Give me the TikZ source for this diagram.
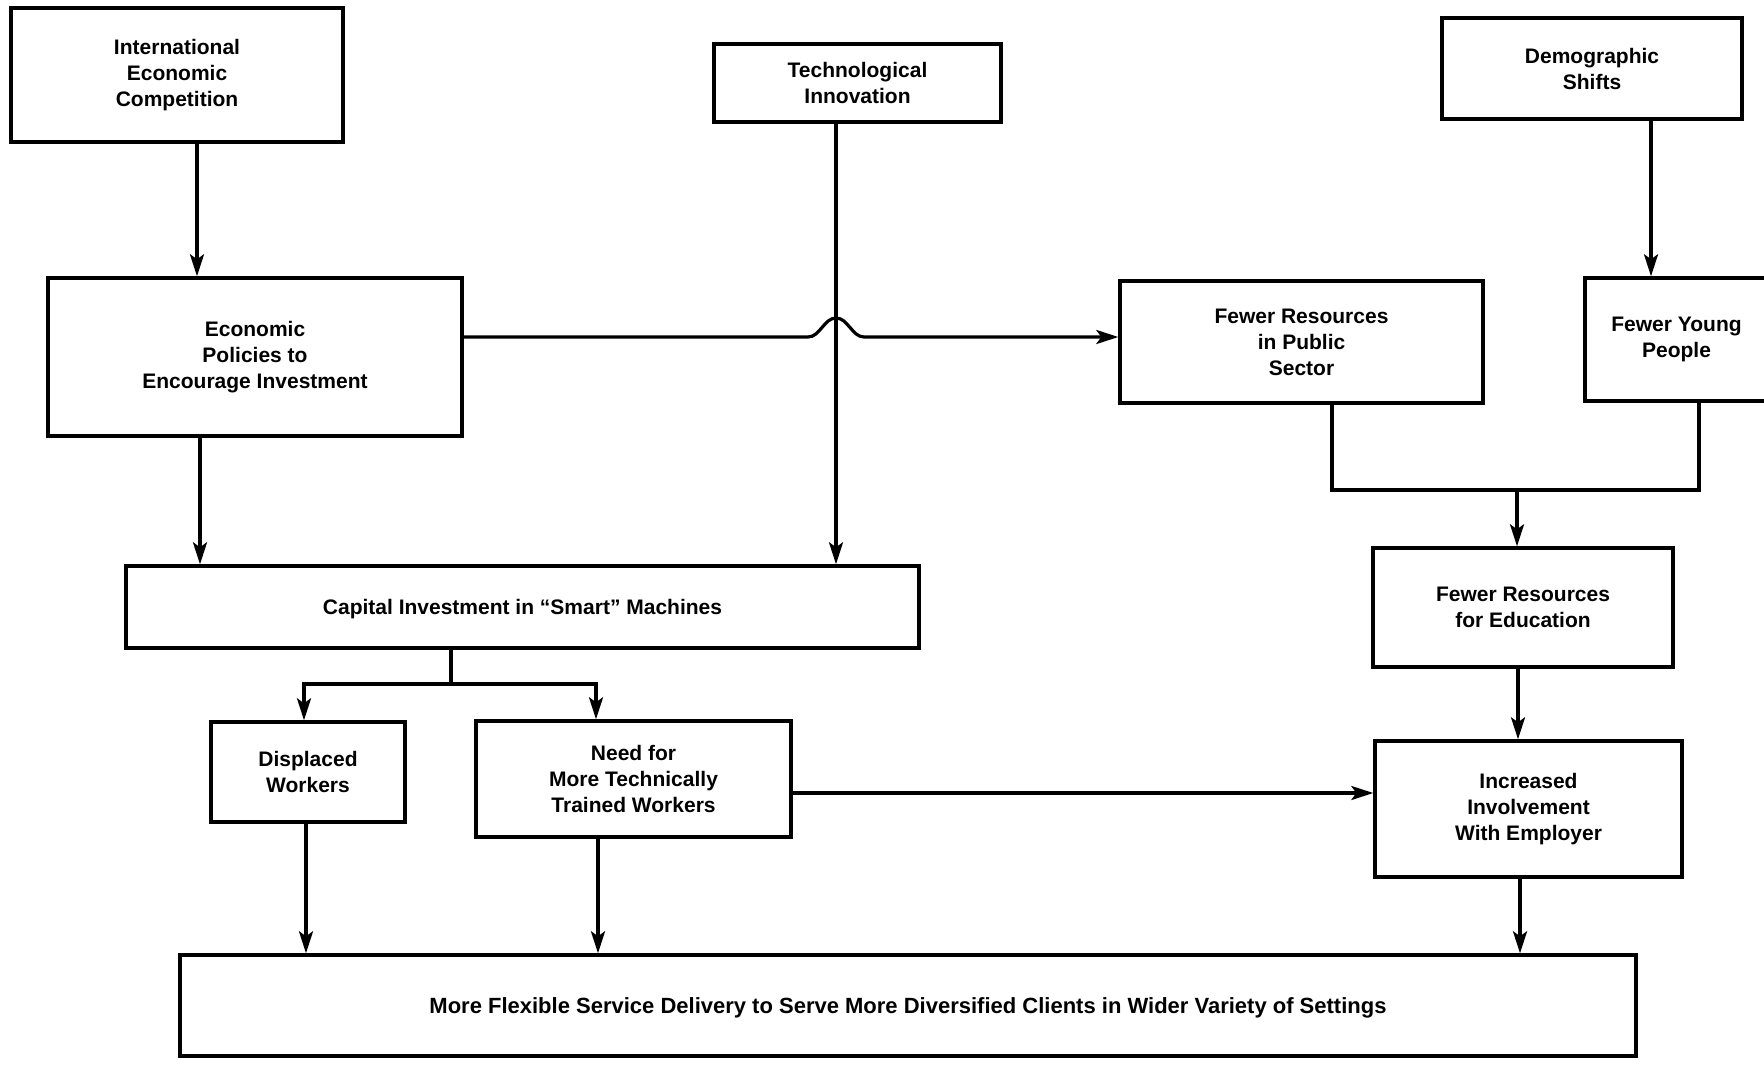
\documentclass[tikz,border=0pt]{standalone}
\usepackage{fontspec}
\setmainfont{Liberation Sans}
\usetikzlibrary{arrows.meta,calc}
\tikzset{
  box/.style={draw, line width=1.7pt, inner sep=0pt, align=center, fill=white,
    font=\fontsize{10.5}{13}\selectfont\bfseries},
  oneline/.style={text height=7.5pt, text depth=0pt},
  conn/.style={line width=1.6pt, line join=miter},
  arr/.style={conn, -{Stealth[length=11pt,width=7pt,inset=2.5pt]}},
}
\begin{document}
\begin{tikzpicture}[x=0.5pt,y=-0.5pt]
\clip (0,0) rectangle (1764,1064);
\fill[white] (0,0) rectangle (1764,1064);

% boxes
\node[box, minimum width=166pt, minimum height=67pt] (iec) at (177,75) {International\\Economic\\Competition};
\node[box, minimum width=143.5pt, minimum height=39pt] (tech) at (857.5,83) {Technological\\Innovation};
\node[box, minimum width=150pt, minimum height=50.5pt] (demo) at (1592,68.5) {Demographic\\Shifts};
\node[box, minimum width=207pt, minimum height=79pt] (ep) at (255,357) {Economic\\Policies to\\Encourage Investment};
\node[box, minimum width=181.5pt, minimum height=61pt] (pub) at (1301.5,342) {Fewer Resources\\in Public\\Sector};
\node[box, minimum width=91.5pt, minimum height=61.5pt] (young) at (1676.5,339.5) {Fewer Young\\People};
\node[box, oneline, minimum width=396.5pt, minimum height=41pt] (cap) at (522.5,607) {Capital Investment in ``Smart'' Machines};
\node[box, minimum width=150pt, minimum height=59.5pt] (edu) at (1523,607.5) {Fewer Resources\\for Education};
\node[box, minimum width=97pt, minimum height=50pt] (disp) at (308,772) {Displaced\\Workers};
\node[box, minimum width=157.5pt, minimum height=58pt] (need) at (633.5,779) {Need for\\More Technically\\Trained Workers};
\node[box, minimum width=153.5pt, minimum height=68pt] (inc) at (1528.5,809) {Increased\\Involvement\\With Employer};
\node[box, oneline, minimum width=728pt, minimum height=50.5pt, font=\fontsize{11}{13}\selectfont\bfseries] (flex) at (908,1005.5)
  {More Flexible Service Delivery to Serve More Diversified Clients in Wider Variety of Settings};

% guides
\coordinate (g1) at (197,0);
\coordinate (g2) at (200,0);
\coordinate (g3) at (836,0);
\coordinate (g4) at (1651,0);
\coordinate (g5) at (1332,0);
\coordinate (g6) at (1699,0);
\coordinate (jn) at (1517,490);
\coordinate (g8) at (1518,0);
\coordinate (sp) at (451,684);
\coordinate (g10) at (304,0);
\coordinate (g11) at (596,0);
\coordinate (g12) at (306,0);
\coordinate (g13) at (598,0);
\coordinate (g14) at (1520,0);
\coordinate (hy) at (0,337);
\coordinate (hy2) at (0,793);
\coordinate (hc) at (g3 |- hy);

% connectors
\draw[arr] (iec.south -| g1) -- (ep.north -| g1);
\draw[arr] (ep.south -| g2) -- (cap.north -| g2);
\draw[arr] (tech.south -| g3) -- (cap.north -| g3);
\draw[arr] (demo.south -| g4) -- (young.north -| g4);
\draw[arr] (ep.east |- hy) -- ($(hc)+(-28,0)$)
   .. controls ($(hc)+(-16,0)$) and ($(hc)+(-12,-19)$) .. ($(hc)+(0,-19)$)
   .. controls ($(hc)+(12,-19)$) and ($(hc)+(16,0)$) .. ($(hc)+(28,0)$)
   -- (pub.west |- hy);
\draw[conn] (pub.south -| g5) -- (g5 |- jn) -- (g6 |- jn) -- (young.south -| g6);
\draw[arr] (jn) -- (edu.north -| jn);
\draw[arr] (edu.south -| g8) -- (inc.north -| g8);
\draw[conn] (cap.south -| sp) -- (sp);
\draw[arr] (sp) -| (disp.north -| g10);
\draw[arr] (sp) -| (need.north -| g11);
\draw[arr] (need.east |- hy2) -- (inc.west |- hy2);
\draw[arr] (disp.south -| g12) -- (flex.north -| g12);
\draw[arr] (need.south -| g13) -- (flex.north -| g13);
\draw[arr] (inc.south -| g14) -- (flex.north -| g14);
\end{tikzpicture}
\end{document}
